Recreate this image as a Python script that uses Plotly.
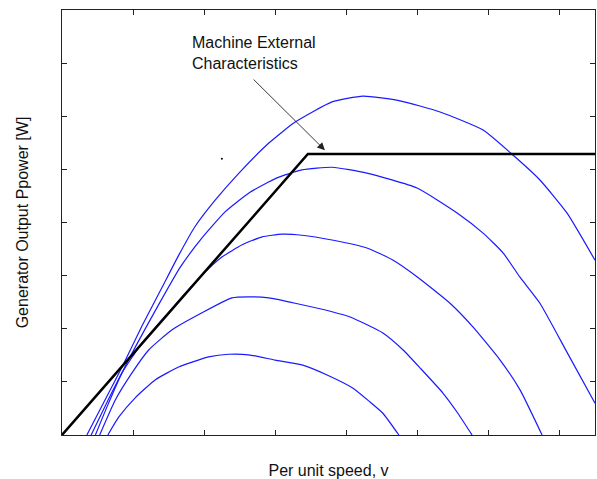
import plotly.graph_objects as go

# Per-unit speed (x) and generator output power (y, arbitrary units) for each curve
c1_x = [0.129, 0.160, 0.206, 0.263, 0.328, 0.413, 0.469, 0.525, 0.600, 0.675, 0.746, 0.819, 0.867, 0.903, 0.948]
c1_y = [0.0, 0.34, 0.70, 1.04, 1.28, 1.47, 1.52, 1.51, 1.41, 1.32, 1.13, 0.88, 0.62, 0.41, 0.0]

c2_x = [0.106, 0.150, 0.197, 0.244, 0.310, 0.394, 0.478, 0.525, 0.582, 0.656, 0.760, 0.811, 0.903, 0.960, 1.008, 1.072, 1.114, 1.154]
c2_y = [0.0, 0.66, 1.17, 1.60, 1.98, 2.30, 2.58, 2.60, 2.58, 2.48, 2.32, 2.22, 1.92, 1.60, 1.26, 0.79, 0.41, 0.0]

c3_x = [0.094, 0.131, 0.169, 0.225, 0.281, 0.338, 0.394, 0.450, 0.507, 0.563, 0.619, 0.675, 0.760, 0.858, 0.932, 0.999, 1.092, 1.157, 1.233, 1.289, 1.351]
c3_y = [0.0, 0.60, 1.17, 1.73, 2.16, 2.60, 3.01, 3.35, 3.58, 3.73, 3.78, 3.76, 3.67, 3.52, 3.29, 2.98, 2.48, 2.03, 1.41, 0.85, 0.0]

c4_x = [0.082, 0.141, 0.205, 0.270, 0.332, 0.394, 0.459, 0.529, 0.605, 0.675, 0.760, 0.858, 0.999, 1.112, 1.185, 1.241, 1.289, 1.345, 1.421, 1.5]
c4_y = [0.0, 0.81, 1.64, 2.43, 3.15, 3.71, 4.20, 4.57, 4.84, 4.99, 5.04, 4.93, 4.65, 4.18, 3.80, 3.43, 2.97, 2.48, 1.56, 0.60]

c5_x = [0.070, 0.121, 0.169, 0.225, 0.281, 0.329, 0.374, 0.431, 0.498, 0.583, 0.656, 0.760, 0.847, 0.951, 1.064, 1.185, 1.269, 1.345, 1.421, 1.5]
c5_y = [0.0, 0.66, 1.28, 2.05, 2.77, 3.39, 3.92, 4.42, 4.93, 5.50, 5.89, 6.27, 6.38, 6.29, 6.08, 5.74, 5.27, 4.80, 4.18, 3.29]

# Machine external characteristic (black)
ext_x = [0.0, 0.692, 1.5]
ext_y = [0.0, 5.29, 5.29]

# stray dot in the original figure
dot_x = [0.45]
dot_y = [5.2]

x_ticks = [0.0, 0.2, 0.4, 0.6, 0.8, 1.0, 1.2, 1.4]
y_ticks = [0, 1, 2, 3, 4, 5, 6, 7, 8]

fig = go.Figure()
for cx, cy in [(c1_x, c1_y), (c2_x, c2_y), (c3_x, c3_y), (c4_x, c4_y), (c5_x, c5_y)]:
    fig.add_trace(go.Scatter(x=cx, y=cy, mode="lines",
                             line=dict(color="#1a1aff", width=1.2, shape="spline", smoothing=0.5),
                             showlegend=False, hoverinfo="skip"))
fig.add_trace(go.Scatter(x=ext_x, y=ext_y, mode="lines",
                         line=dict(color="black", width=2.5),
                         showlegend=False, hoverinfo="skip"))
fig.add_trace(go.Scatter(x=dot_x, y=dot_y, mode="markers",
                         marker=dict(color="black", size=2),
                         showlegend=False, hoverinfo="skip"))

font_name = "Liberation Sans, Arial, sans-serif"

fig.add_annotation(x=0.36, y=7.19, xref="x", yref="y",
                   text="Machine External<br>Characteristics", showarrow=False,
                   xanchor="left", yanchor="middle", align="left",
                   font=dict(family=font_name, size=16, color="#111"))
fig.add_annotation(x=0.740, y=5.36, xref="x", yref="y",
                   ax=0.535, ay=6.72, axref="x", ayref="y",
                   text="", showarrow=True, arrowhead=2, arrowsize=1.7,
                   arrowwidth=0.9, arrowcolor="#222")

axis_common = dict(showline=True, linecolor="#222", linewidth=1, mirror="ticks",
                   ticks="inside", ticklen=5, tickcolor="#222", tickwidth=1,
                   showticklabels=False, showgrid=False, zeroline=False)

fig.update_xaxes(range=[0, 1.5], tickvals=x_ticks,
                 title=dict(text="Per unit speed, v", standoff=31,
                            font=dict(family=font_name, size=16, color="#111")),
                 **axis_common)
fig.update_yaxes(range=[0, 8], tickvals=y_ticks,
                 title=dict(text="Generator Output Ppower [W]", standoff=28,
                            font=dict(family=font_name, size=16, color="#111")),
                 **axis_common)

fig.update_layout(width=597, height=479,
                  margin=dict(l=62, r=2, t=10, b=44, autoexpand=False),
                  paper_bgcolor="white", plot_bgcolor="white")

fig.write_html("out.html")
